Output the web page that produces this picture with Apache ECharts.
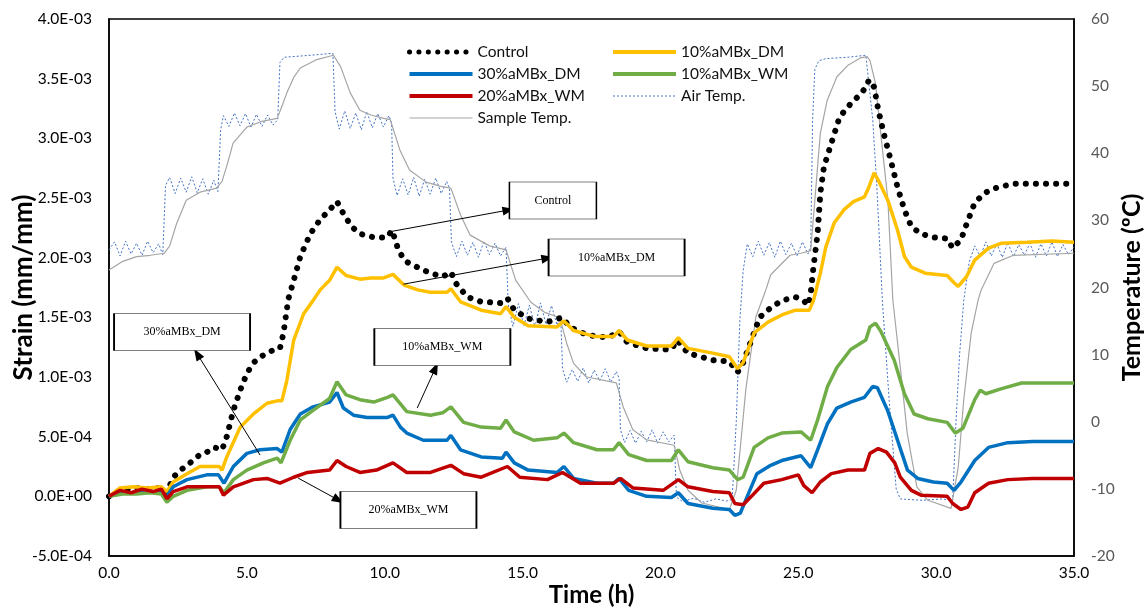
<!DOCTYPE html>
<html><head><meta charset="utf-8">
<script src="https://cdn.jsdelivr.net/npm/echarts@6/dist/echarts.min.js"></script>
<style>html,body{margin:0;padding:0;background:#fff}#c{width:1144px;height:609px}</style>
</head><body><div id="c"></div>
<script>
// ---------- data (time in h, strain in mm/mm, temperature in °C) ----------
const controlTime = [0,0.4,0.9,1.4,1.9,2.1,2.33,2.6,2.83,3.1,3.3,3.55,3.79,4.0,4.1,4.27,4.51,4.76,5.0,5.24,5.5,5.73,6.0,6.2,6.33,6.5,6.7,6.94,7.3,7.66,8.0,8.15,8.27,8.5,8.8,9.1,9.6,10.08,10.27,10.5,10.75,11.0,11.66,12.1,12.4,12.6,13.0,13.5,14.2,14.45,14.7,15.2,15.9,16.45,16.7,17.35,18.1,18.5,18.8,19.5,20.4,20.6,21.0,21.9,22.5,22.8,23.0,23.3,23.6,24.0,24.4,24.9,25.2,25.35,25.45,25.55,25.7,25.8,25.93,26.2,26.5,26.9,27.3,27.5,27.56,27.75,27.9,28.1,28.35,28.6,28.85,29.1,29.45,29.9,30.4,30.6,30.9,31.15,31.4,31.75,32.1,32.8,33.5,34.2,35];
const controlStrain = [0,0.05e-3,0.07e-3,0.06e-3,0.07e-3,0.03e-3,0.16e-3,0.22e-3,0.26e-3,0.31e-3,0.35e-3,0.37e-3,0.41e-3,0.40e-3,0.39e-3,0.50e-3,0.72e-3,0.89e-3,1.03e-3,1.12e-3,1.17e-3,1.20e-3,1.23e-3,1.24e-3,1.37e-3,1.65e-3,1.81e-3,2.01e-3,2.20e-3,2.32e-3,2.40e-3,2.44e-3,2.47e-3,2.37e-3,2.26e-3,2.20e-3,2.17e-3,2.17e-3,2.23e-3,2.06e-3,1.97e-3,1.94e-3,1.87e-3,1.84e-3,1.88e-3,1.78e-3,1.67e-3,1.63e-3,1.62e-3,1.66e-3,1.56e-3,1.49e-3,1.46e-3,1.50e-3,1.42e-3,1.35e-3,1.33e-3,1.38e-3,1.29e-3,1.24e-3,1.23e-3,1.31e-3,1.20e-3,1.14e-3,1.13e-3,1.04e-3,1.12e-3,1.31e-3,1.50e-3,1.58e-3,1.64e-3,1.67e-3,1.64e-3,1.60e-3,1.70e-3,1.92e-3,2.20e-3,2.54e-3,2.76e-3,2.96e-3,3.18e-3,3.29e-3,3.38e-3,3.45e-3,3.49e-3,3.43e-3,3.24e-3,3.04e-3,2.82e-3,2.59e-3,2.40e-3,2.26e-3,2.20e-3,2.17e-3,2.16e-3,2.08e-3,2.15e-3,2.31e-3,2.46e-3,2.54e-3,2.58e-3,2.62e-3,2.62e-3,2.62e-3,2.62e-3];

const dm10Time = [0,0.4,0.9,1.4,1.9,2.1,2.33,2.83,3.3,4.0,4.1,4.27,4.76,5.24,5.73,6.1,6.27,6.45,6.7,7.06,7.4,7.66,8.0,8.27,8.6,9.1,9.5,9.96,10.3,10.7,11.2,11.66,12.26,12.4,12.75,13.5,14.2,14.4,14.7,15.2,16.25,16.5,16.85,17.6,18.3,18.5,18.8,19.5,20.4,20.65,21.0,21.9,22.5,22.8,23.0,23.4,23.9,24.4,24.9,25.4,25.55,25.8,26.0,26.3,26.65,27.0,27.4,27.56,27.75,27.9,28.25,28.6,28.85,29.1,29.6,30.4,30.65,30.8,31.1,31.4,31.9,32.35,33.3,34.2,35];
const dm10Strain = [0,0.07e-3,0.08e-3,0.07e-3,0.08e-3,0.04e-3,0.12e-3,0.19e-3,0.25e-3,0.25e-3,0.22e-3,0.33e-3,0.58e-3,0.69e-3,0.78e-3,0.80e-3,0.80e-3,0.97e-3,1.31e-3,1.53e-3,1.64e-3,1.73e-3,1.81e-3,1.92e-3,1.85e-3,1.82e-3,1.83e-3,1.83e-3,1.86e-3,1.77e-3,1.73e-3,1.71e-3,1.71e-3,1.74e-3,1.63e-3,1.56e-3,1.53e-3,1.59e-3,1.50e-3,1.43e-3,1.42e-3,1.47e-3,1.39e-3,1.34e-3,1.34e-3,1.39e-3,1.31e-3,1.26e-3,1.26e-3,1.33e-3,1.24e-3,1.20e-3,1.17e-3,1.07e-3,1.12e-3,1.37e-3,1.46e-3,1.52e-3,1.56e-3,1.56e-3,1.64e-3,1.87e-3,2.09e-3,2.29e-3,2.40e-3,2.47e-3,2.51e-3,2.59e-3,2.71e-3,2.65e-3,2.48e-3,2.23e-3,2.01e-3,1.92e-3,1.87e-3,1.85e-3,1.79e-3,1.76e-3,1.84e-3,1.98e-3,2.08e-3,2.12e-3,2.13e-3,2.14e-3,2.13e-3];

const dm30Time = [0,0.5,1.0,1.5,1.9,2.1,2.33,2.83,3.55,3.97,4.17,4.51,5.0,5.48,6.1,6.27,6.57,6.94,7.4,8.0,8.27,8.5,8.87,9.36,10.08,10.3,10.57,10.8,11.4,12.26,12.4,12.75,13.5,14.27,14.4,14.7,15.2,16.25,16.5,16.85,17.7,18.3,18.5,18.85,19.5,20.4,20.65,21.0,21.9,22.5,22.7,22.9,23.15,23.5,24.0,24.4,25.1,25.45,25.7,26.06,26.4,26.9,27.4,27.7,27.87,28.24,28.6,28.96,29.33,29.9,30.4,30.65,30.9,31.4,31.9,32.6,33.5,35];
const dm30Strain = [0,0.03e-3,0.03e-3,0.04e-3,0.03e-3,0,0.08e-3,0.14e-3,0.18e-3,0.18e-3,0.11e-3,0.25e-3,0.36e-3,0.39e-3,0.40e-3,0.37e-3,0.56e-3,0.69e-3,0.75e-3,0.79e-3,0.87e-3,0.74e-3,0.68e-3,0.66e-3,0.66e-3,0.68e-3,0.58e-3,0.53e-3,0.47e-3,0.47e-3,0.51e-3,0.39e-3,0.33e-3,0.32e-3,0.37e-3,0.28e-3,0.22e-3,0.20e-3,0.25e-3,0.15e-3,0.11e-3,0.11e-3,0.15e-3,0.05e-3,0,-0.01e-3,0.03e-3,-0.06e-3,-0.10e-3,-0.11e-3,-0.16e-3,-0.14e-3,0,0.19e-3,0.26e-3,0.30e-3,0.34e-3,0.24e-3,0.39e-3,0.61e-3,0.74e-3,0.79e-3,0.83e-3,0.92e-3,0.91e-3,0.72e-3,0.47e-3,0.22e-3,0.15e-3,0.12e-3,0.11e-3,0.05e-3,0.12e-3,0.30e-3,0.41e-3,0.45e-3,0.46e-3,0.46e-3];

const wm10Time = [0,0.5,1.0,1.5,1.9,2.1,2.33,2.83,3.55,4.0,4.17,4.51,5.0,5.6,6.1,6.24,6.57,6.94,7.4,8.0,8.27,8.6,9.1,9.6,10.1,10.3,10.8,11.66,12.1,12.4,12.86,13.5,14.2,14.4,14.7,15.4,16.25,16.5,16.85,17.7,18.3,18.5,18.85,19.5,20.4,20.65,21.0,21.9,22.5,22.8,23.0,23.4,23.9,24.4,25.1,25.45,25.7,26.06,26.4,26.9,27.45,27.6,27.8,28.0,28.48,28.85,29.2,29.7,30.4,30.7,30.97,31.4,31.6,31.8,32.35,33.1,34.0,35];
const wm10Strain = [0,0.02e-3,0.02e-3,0.03e-3,0.02e-3,-0.05e-3,0,0.05e-3,0.08e-3,0.08e-3,0.03e-3,0.14e-3,0.22e-3,0.28e-3,0.32e-3,0.28e-3,0.47e-3,0.64e-3,0.72e-3,0.82e-3,0.96e-3,0.85e-3,0.81e-3,0.79e-3,0.83e-3,0.85e-3,0.71e-3,0.68e-3,0.70e-3,0.75e-3,0.62e-3,0.58e-3,0.57e-3,0.64e-3,0.54e-3,0.47e-3,0.49e-3,0.53e-3,0.45e-3,0.39e-3,0.39e-3,0.45e-3,0.35e-3,0.30e-3,0.30e-3,0.39e-3,0.29e-3,0.24e-3,0.22e-3,0.14e-3,0.16e-3,0.41e-3,0.49e-3,0.53e-3,0.54e-3,0.47e-3,0.64e-3,0.92e-3,1.08e-3,1.23e-3,1.31e-3,1.42e-3,1.45e-3,1.38e-3,1.14e-3,0.86e-3,0.69e-3,0.65e-3,0.62e-3,0.53e-3,0.57e-3,0.81e-3,0.89e-3,0.86e-3,0.90e-3,0.95e-3,0.95e-3,0.95e-3];

const wm20Time = [0,0.4,0.8,1.2,1.6,1.9,2.1,2.33,2.83,3.55,4.0,4.15,4.51,5.24,5.73,6.2,6.7,7.2,8.0,8.27,8.6,9.1,9.7,10.3,10.8,11.66,12.4,12.86,13.5,14.45,14.9,15.9,16.45,17.1,18.3,18.55,19.0,20.1,20.65,21.0,21.9,22.5,22.7,23.0,23.3,23.75,24.4,25.0,25.2,25.5,25.8,26.2,26.8,27.4,27.6,27.9,28.2,28.5,28.7,29.1,29.45,30.4,30.6,30.9,31.15,31.4,31.9,32.6,33.5,35];
const wm20Strain = [0,0.05e-3,0.03e-3,0.06e-3,0.04e-3,0.06e-3,-0.02e-3,0.04e-3,0.08e-3,0.08e-3,0.08e-3,0.01e-3,0.08e-3,0.14e-3,0.15e-3,0.11e-3,0.16e-3,0.20e-3,0.22e-3,0.30e-3,0.25e-3,0.20e-3,0.22e-3,0.28e-3,0.20e-3,0.20e-3,0.26e-3,0.19e-3,0.16e-3,0.25e-3,0.16e-3,0.14e-3,0.20e-3,0.11e-3,0.11e-3,0.15e-3,0.07e-3,0.05e-3,0.14e-3,0.08e-3,0.04e-3,0.03e-3,-0.06e-3,-0.07e-3,0,0.11e-3,0.14e-3,0.18e-3,0.09e-3,0.03e-3,0.12e-3,0.19e-3,0.22e-3,0.22e-3,0.36e-3,0.40e-3,0.37e-3,0.28e-3,0.16e-3,0.05e-3,0.01e-3,0,-0.06e-3,-0.11e-3,-0.09e-3,0.03e-3,0.11e-3,0.14e-3,0.15e-3,0.15e-3];

const airTime = [0,0.2,0.4,0.6,0.8,1.0,1.2,1.4,1.6,1.8,1.95,2.05,2.2,2.4,2.6,2.8,3.0,3.2,3.4,3.6,3.8,3.95,4.05,4.15,4.35,4.55,4.75,4.95,5.15,5.35,5.55,5.75,5.95,6.12,6.2,6.35,7.0,7.6,8.12,8.2,8.35,8.55,8.75,8.95,9.15,9.35,9.55,9.75,9.95,10.15,10.25,10.3,10.45,10.65,10.85,11.05,11.25,11.45,11.65,11.85,12.05,12.25,12.35,12.42,12.6,12.8,13.0,13.2,13.4,13.6,13.8,14.0,14.2,14.4,14.48,14.65,14.85,15.05,15.25,15.45,15.65,15.85,16.05,16.25,16.38,16.45,16.6,16.8,17.0,17.2,17.4,17.6,17.8,18.0,18.2,18.4,18.5,18.55,18.7,18.9,19.1,19.3,19.5,19.7,19.9,20.1,20.3,20.5,20.58,20.8,21.2,21.6,22.0,22.4,22.6,22.75,22.88,23.0,23.15,23.35,23.55,23.75,23.95,24.15,24.35,24.55,24.75,24.95,25.15,25.35,25.45,25.52,25.6,25.75,26.0,26.8,27.45,27.7,27.85,28.05,28.3,28.55,28.7,29.5,30.2,30.6,30.72,30.85,31.0,31.2,31.4,31.6,31.8,32.0,32.2,32.4,32.6,32.8,33.0,33.2,33.4,33.6,33.8,34.0,34.2,34.4,34.6,34.8,35.0];
const airTemp = [25.6,26.8,24.7,26.9,25.0,26.6,24.8,26.9,25.2,26.5,24.9,35.2,36.4,34.0,36.3,34.2,36.5,34.1,36.2,33.9,36.0,34.3,43.5,45.6,44.0,46.0,44.1,45.9,43.9,45.8,44.0,45.7,44.2,45.0,53.5,54.3,54.5,54.7,54.9,46.2,43.6,46.3,43.7,46.0,43.5,46.2,43.8,45.9,43.9,45.6,44.5,36.3,33.7,36.2,33.8,36.4,33.6,36.1,33.9,36.3,34.0,35.8,34.8,26.8,24.6,26.9,24.8,26.7,24.5,26.9,24.9,26.6,24.7,26.0,17.5,14.2,17.6,14.3,17.4,14.1,17.7,14.5,17.3,14.4,15.8,7.9,5.9,7.8,6.0,8.0,5.8,7.7,6.1,7.9,5.9,7.5,6.5,-1.2,-3.1,-1.3,-3.2,-1.4,-3.0,-1.2,-3.2,-1.5,-3.0,-2.0,-11.2,-11.9,-11.4,-12.0,-11.5,-11.8,-11.6,0,15,22.5,26.5,24.6,26.9,24.8,26.7,24.5,26.9,24.9,26.6,24.7,26.8,25.0,26.0,45,52.5,53.8,54.1,54.3,54.6,45,35,18,3,-10,-11.5,-11.7,-11.5,-11.7,0,10,18,23.8,26.2,24.6,26.8,24.7,26.5,24.5,26.7,24.6,26.4,24.8,26.6,24.5,26.5,24.7,26.8,24.6,26.4,24.9,26.0];

const sampleTime = [0,0.5,1.0,1.5,2.0,2.2,2.45,2.8,3.3,3.9,4.1,4.3,4.5,5.0,5.5,6.1,6.3,6.45,6.7,6.94,7.5,8.14,8.4,8.75,9.1,9.5,9.96,10.2,10.55,10.9,11.5,12.0,12.4,12.75,13.1,13.8,14.4,14.75,15.3,15.8,16.35,16.6,16.85,17.3,18.4,18.65,19.0,19.5,20.5,20.7,21.0,21.5,22.5,22.75,23.1,23.46,23.82,24.0,24.7,25.1,25.45,25.6,25.8,26.05,26.4,26.8,27.25,27.5,27.6,27.8,27.99,28.25,28.43,28.7,28.95,29.3,29.7,30.54,30.8,31.0,31.27,31.52,31.63,32.1,32.8,35];
const sampleTemp = [22.6,23.9,24.6,24.8,25.1,26.2,29.5,33.0,34.2,34.8,35.8,38.5,41.5,43.9,44.7,45.2,47.3,49.0,51.3,52.7,53.9,54.6,52.9,49.0,46.4,45.7,45.2,45.0,40.5,37.5,35.7,35.1,34.8,30.8,27.8,26.2,25.6,21.1,17.8,16.3,15.5,11.7,8.7,6.7,5.8,2.2,-1.2,-2.7,-3.5,-7.2,-10.2,-12.1,-13.1,-10.2,4.9,15.6,19.6,21.9,24.8,25.1,25.5,33.0,43.0,47.9,51.4,53.1,54.2,54.4,53.8,50.4,43.0,33.0,18.1,8.1,-1.7,-9.7,-11.7,-12.9,-6.8,3.2,13.2,18.1,19.6,23.6,24.8,25.1];

// axis ticks
const timeTicks = {min: 0, max: 35, step: 5};
const strainTicks = {min: -0.0005, max: 0.004, step: 0.0005};
const tempTicks = {min: -20, max: 60, step: 10};

// annotations (anchored in data coordinates: [time h, strain mm/mm])
const annBoxes = [
  {label: 'Control',    at: [16.10, 2.479e-3]},
  {label: '10%aMBx_DM', at: [18.41, 2.001e-3]},
  {label: '10%aMBx_WM', at: [12.09, 1.251e-3]},
  {label: '30%aMBx_DM', at: [2.65, 1.377e-3]},
  {label: '20%aMBx_WM', at: [10.86, -0.115e-3]}
];
const annArrows = [
  {from: [10.13, 2.215e-3], to: [14.49, 2.399e-3]},
  {from: [10.68, 1.778e-3], to: [15.90, 1.996e-3]},
  {from: [11.18, 0.740e-3], to: [11.84, 1.075e-3]},
  {from: [5.48, 0.346e-3],  to: [3.20, 1.193e-3]},
  {from: [6.86, 0.153e-3],  to: [8.32, -0.031e-3]}
];

// ---------- chart ----------
const boxSize = {'Control': [87, 37]};
const pairs = (t, v) => t.map((x, i) => [x, v[i]]);
function sci(v) {
  if (Math.abs(v) < 1e-12) return '0.0E+00';
  let e = Math.floor(Math.log10(Math.abs(v)) + 1e-9);
  let s = (v / Math.pow(10, e)).toFixed(1);
  if (Math.abs(parseFloat(s)) >= 10) { e += 1; s = (v / Math.pow(10, e)).toFixed(1); }
  return s + 'E' + (e < 0 ? '-' : '+') + String(Math.abs(e)).padStart(2, '0');
}
const FONT = 'Lato';
const tickFont = {fontFamily: FONT, fontSize: 15.5};
const nameFont = sz => ({fontFamily: FONT, fontSize: sz, fontWeight: 'bold', color: '#000'});

const chart = echarts.init(document.getElementById('c'), null, {renderer: 'canvas'});
const legendText = {fontFamily: FONT, fontSize: 15.5, color: '#111'};
const lineSeries = (name, t, v, color, width, axis, extra) => Object.assign({
  name, type: 'line', yAxisIndex: axis, data: pairs(t, v), symbol: 'none', showSymbol: false,
  lineStyle: {color, width}, itemStyle: {color}, emphasis: {disabled: true}, silent: true
}, extra || {});
const legendBase = {orient: 'vertical', padding: 0, itemGap: 6, itemWidth: 63, itemHeight: 12, selectedMode: false,
  textStyle: legendText, itemStyle: {opacity: 0, borderWidth: 0}};

chart.setOption({
  animation: false,
  backgroundColor: '#fff',
  grid: {left: 109, right: 70, top: 19, bottom: 53, outerBoundsMode: 'none', containLabel: false,
    show: true, borderColor: '#000', borderWidth: 1.5, backgroundColor: 'transparent'},
  legend: [
    Object.assign({left: 407, top: 44, data: [
        {name: 'Control', lineStyle: {width: 5, type: [0.1, 9.3], cap: 'round', color: '#000'}},
        {name: '30%aMBx_DM', lineStyle: {width: 4}},
        {name: '20%aMBx_WM', lineStyle: {width: 4}},
        {name: 'Sample Temp.', lineStyle: {width: 1.2}}
      ]}, legendBase),
    Object.assign({left: 611, top: 44, data: [
        {name: '10%aMBx_DM', lineStyle: {width: 4}},
        {name: '10%aMBx_WM', lineStyle: {width: 4}},
        {name: 'Air Temp.', lineStyle: {width: 1, type: [2, 2]}}
      ]}, legendBase)
  ],
  xAxis: {
    type: 'value', min: timeTicks.min, max: timeTicks.max, interval: timeTicks.step,
    axisLine: {onZero: false, lineStyle: {color: '#000', width: 1.5}}, axisTick: {show: false}, splitLine: {show: false},
    axisLabel: Object.assign({color: '#000', margin: 9, formatter: v => v.toFixed(1)}, tickFont),
    name: 'Time (h)', nameLocation: 'middle', nameGap: 27, nameMoveOverlap: false, nameTextStyle: nameFont(24)
  },
  yAxis: [
    {
      type: 'value', position: 'left', min: strainTicks.min, max: strainTicks.max, interval: strainTicks.step,
      axisLine: {show: true, onZero: false, lineStyle: {color: '#000', width: 1.5}}, axisTick: {show: false}, splitLine: {show: false},
      axisLabel: Object.assign({color: '#000', margin: 17, formatter: sci}, tickFont),
      name: 'Strain (mm/mm)', nameLocation: 'middle', nameRotate: 90, nameGap: 72, nameMoveOverlap: false, nameTextStyle: nameFont(26)
    },
    {
      type: 'value', position: 'right', min: tempTicks.min, max: tempTicks.max, interval: tempTicks.step,
      axisLine: {show: true, onZero: false, lineStyle: {color: '#000', width: 1.5}}, axisTick: {show: false}, splitLine: {show: false},
      axisLabel: Object.assign({color: '#595959', margin: 17}, tickFont),
      name: 'Temperature (ºC)', nameLocation: 'middle', nameRotate: 90, nameGap: 45, nameMoveOverlap: false, nameTextStyle: nameFont(25)
    }
  ],
  series: [
    lineSeries('Air Temp.', airTime, airTemp, '#4472C4', 1, 1, {lineStyle: {color: '#4472C4', width: 1, type: [2, 2]}}),
    lineSeries('Sample Temp.', sampleTime, sampleTemp, '#A5A5A5', 1.2, 1),
    lineSeries('Control', controlTime, controlStrain, '#000', 6, 0, {lineStyle: {color: '#000', width: 6, type: [0.1, 10], cap: 'round'}}),
    lineSeries('10%aMBx_DM', dm10Time, dm10Strain, '#FFC000', 3.5, 0),
    lineSeries('30%aMBx_DM', dm30Time, dm30Strain, '#0070C0', 3.5, 0),
    lineSeries('10%aMBx_WM', wm10Time, wm10Strain, '#70AD47', 3.5, 0),
    lineSeries('20%aMBx_WM', wm20Time, wm20Strain, '#C00000', 3.5, 0),
    {
      name: 'annotations', type: 'line', yAxisIndex: 0, data: [], silent: true, z: 5,
      markLine: {
        silent: true, animation: false, precision: 10,
        label: {show: false},
        lineStyle: {color: '#000', width: 1, type: 'solid'},
        emphasis: {disabled: true},
        data: annArrows.map(a => [
          {coord: a.from, symbol: 'none'},
          {coord: a.to, symbol: 'triangle', symbolSize: [9, 12]}
        ])
      },
      markPoint: {
        silent: true, animation: false,
        data: annBoxes.map(b => ({
          coord: b.at, symbol: 'rect', symbolSize: boxSize[b.label] || [136, 37],
          itemStyle: {color: '#fff', borderColor: '#000', borderWidth: 1},
          label: {show: true, position: 'inside', formatter: b.label, color: '#000', fontFamily: 'Liberation Serif', fontSize: 12}
        }))
      }
    }
  ]
});
</script>
</body></html>
